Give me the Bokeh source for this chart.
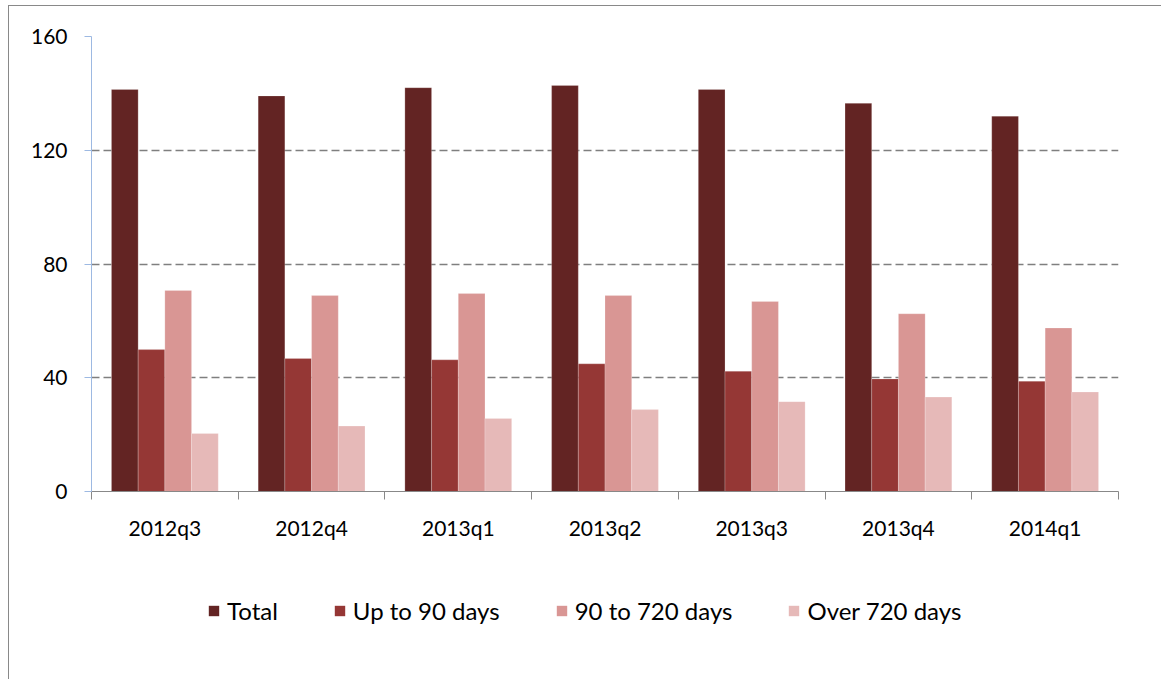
from bokeh.plotting import figure
from bokeh.layouts import column
from bokeh.models import Range1d, FixedTicker, LinearAxis, Legend, LegendItem, ColumnDataSource, Grid
from bokeh.transform import dodge
from bokeh.embed import file_html
from bokeh.resources import INLINE

categories = ["2012q3", "2012q4", "2013q1", "2013q2", "2013q3", "2013q4", "2014q1"]
total = [141.4, 139.1, 142.0, 142.8, 141.4, 136.5, 132.0]
up_to_90 = [49.9, 46.8, 46.3, 44.9, 42.3, 39.6, 38.8]
d90_to_720 = [70.7, 68.9, 69.6, 68.9, 66.8, 62.5, 57.5]
over_720 = [20.4, 23.0, 25.7, 28.8, 31.6, 33.2, 35.0]
series_names = ["Total", "Up to 90 days", "90 to 720 days", "Over 720 days"]
colors = ["#632423", "#953735", "#D99694", "#E6B9B8"]
y_ticks = [0, 40, 80, 120, 160]

xs = [i + 0.5 for i in range(len(categories))]
src = ColumnDataSource(dict(x=xs, total=total, up=up_to_90, mid=d90_to_720, over=over_720))

FONT = "Lato"

p = figure(frame_width=1027, frame_height=455,
           min_border_left=82, min_border_right=40, min_border_top=30, min_border_bottom=60,
           x_range=Range1d(0, len(categories)), y_range=Range1d(0, 160),
           x_axis_type=None, y_axis_type=None,
           output_backend="svg", toolbar_location=None)
p.outline_line_color = None
p.background_fill_color = "white"
p.border_fill_color = "white"

# y axis
yaxis = LinearAxis(ticker=FixedTicker(ticks=y_ticks))
yaxis.axis_line_color = "#9DB9E2"
yaxis.major_tick_line_color = "#9DB9E2"
yaxis.major_tick_out = 7
yaxis.major_tick_in = 0
yaxis.minor_tick_line_color = None
yaxis.major_label_standoff = 17
yaxis.major_label_text_font = FONT
yaxis.major_label_text_font_size = "21px"
yaxis.major_label_text_color = "black"
p.add_layout(yaxis, "left")

# x axis: labels at centers, ticks at boundaries
xaxis = LinearAxis(ticker=FixedTicker(ticks=xs, minor_ticks=list(range(len(categories) + 1))))
xaxis.major_label_overrides = {x: c for x, c in zip(xs, categories)}
xaxis.axis_line_color = "#888888"
xaxis.major_tick_line_color = None
xaxis.major_tick_out = 0
xaxis.major_tick_in = 0
xaxis.minor_tick_line_color = "#888888"
xaxis.minor_tick_out = 8
xaxis.minor_tick_in = 0
xaxis.major_label_standoff = 15
xaxis.major_label_text_font = FONT
xaxis.major_label_text_font_size = "21px"
xaxis.major_label_text_color = "black"
p.add_layout(xaxis, "below")

grid = Grid(dimension=1, ticker=FixedTicker(ticks=[t for t in y_ticks if t > 0]))
grid.grid_line_color = "#7F7F7F"
grid.grid_line_dash = "8 4"
grid.grid_line_width = 1.4
p.add_layout(grid)

cols = ["total", "up", "mid", "over"]
offsets = [-0.273, -0.091, 0.091, 0.273]
for c, off, col in zip(cols, offsets, colors):
    p.vbar(x=dodge("x", off, range=p.x_range), top=c, width=0.182, source=src,
           fill_color=col, line_color="white", line_alpha=0.35, line_width=0.6)

# legend in its own strip below the chart (same series, drawn outside the visible range)
lg = figure(width=1152, height=128, min_border=0,
            x_range=Range1d(1000, 1001), y_range=Range1d(1000, 1001),
            x_axis_type=None, y_axis_type=None, output_backend="svg", toolbar_location=None)
lg.outline_line_color = None
lg.xgrid.visible = False
lg.ygrid.visible = False
lg_renderers = [lg.vbar(x="x", top=c, width=0.182, source=src, fill_color=col, line_color=None)
                for c, col in zip(cols, colors)]
legend = Legend(items=[LegendItem(label=n, renderers=[r]) for n, r in zip(series_names, lg_renderers)],
                orientation="horizontal", location=(116, 54))
legend.glyph_width = 13
legend.glyph_height = 13
legend.label_standoff = 7
legend.spacing = 55
legend.padding = 0
legend.margin = 0
legend.border_line_color = None
legend.background_fill_alpha = 0
legend.label_text_font = FONT
legend.label_text_font_size = "24px"
legend.label_text_color = "black"
lg.add_layout(legend, "center")

layout = column(p, lg, spacing=0)
layout.styles = {"margin-left": "8px", "margin-top": "5px",
                 "border-left": "1px solid #898989", "border-top": "1px solid #898989"}

open("out.html", "w").write(file_html(layout, INLINE))
